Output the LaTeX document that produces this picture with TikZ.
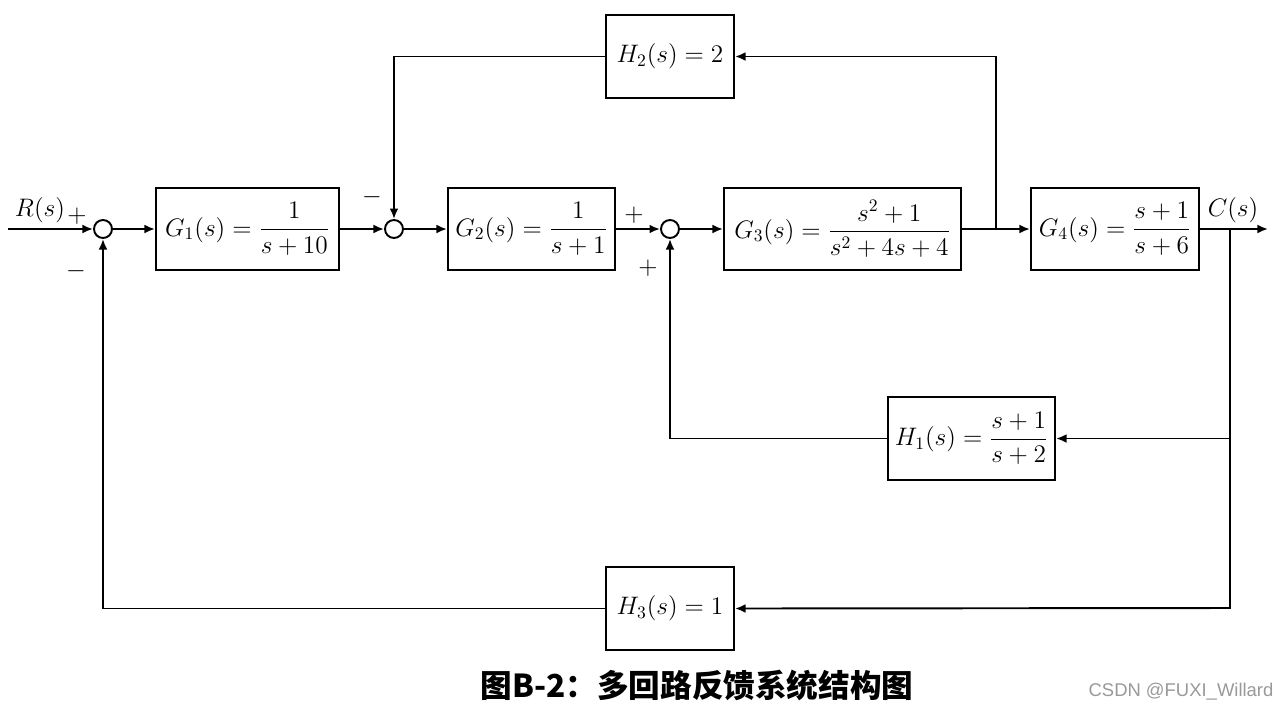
\documentclass[tikz,border=0pt]{standalone}
\usepackage{amsmath}
\usepackage{fontspec}
\newfontfamily\cjk{Noto Sans CJK SC}
\newfontfamily\wm{Liberation Sans}
\usetikzlibrary{arrows.meta}
\begin{document}
\begin{tikzpicture}[x=0.02cm,y=-0.02cm,
  line width=1.1pt,
  font=\fontsize{14.5}{17}\selectfont,
  blk/.style={draw, line width=1.2pt, inner sep=0pt, minimum height=1.64cm},
  sumj/.style={draw, circle, line width=1.1pt, inner sep=0pt, minimum size=0.36cm},
  arr/.style={-{Latex[length=6pt,width=5pt]}},
  sgn/.style={inner sep=0pt}]
\useasboundingbox (0,0) rectangle (1281,711);
% summing junctions
\node[sumj] (S1) at (103,229) {};
\node[sumj] (S2) at (394,229) {};
\node[sumj] (S3) at (670,229) {};
% blocks
\node[blk, minimum width=3.66cm] (G1) at (247.5,229) {$G_1(s)=\dfrac{1}{s+10}$};
\node[blk, minimum width=3.34cm] (G2) at (531.5,229) {$G_2(s)=\dfrac{1}{s+1}$};
\node[blk, minimum width=4.74cm] (G3) at (842.5,229) {$G_3(s)=\dfrac{s^2+1}{s^2+4s+4}$};
\node[blk, minimum width=3.36cm] (G4) at (1115,229) {$G_4(s)=\dfrac{s+1}{s+6}$};
\node[blk, minimum width=2.56cm, minimum height=1.66cm] (H2) at (670,56.5) {$H_2(s)=2$};
\node[blk, minimum width=3.34cm, minimum height=1.66cm] (H1) at (971.5,438.5) {$H_1(s)=\dfrac{s+1}{s+2}$};
\node[blk, minimum width=2.56cm, minimum height=1.66cm] (H3) at (670,608.5) {$H_3(s)=1$};
% coordinates
\coordinate (in) at (8,229);
\coordinate (out) at (1268,229);
\coordinate (b1) at (996,229);
\coordinate (b2) at (1230,229);
\coordinate (b3) at (1230,608);
% forward path
\draw[arr] (in) -- (S1.west);
\draw[arr] (S1.east) -- (G1.west);
\draw[arr] (G1.east) -- (S2.west);
\draw[arr] (S2.east) -- (G2.west);
\draw[arr] (G2.east) -- (S3.west);
\draw[arr] (S3.east) -- (G3.west);
\draw[arr] (G3.east) -- (G4.west);
\draw[arr] (G4.east) -- (out);
% feedback paths
\draw[arr] (b1) |- (H2.east);
\draw[arr] (H2.west) -| (S2.north);
\draw[arr] (b2) |- (H1.east);
\draw[arr] (H1.west) -| (S3.south);
\draw[arr] (b2) -- (b3) -- (H3.east);
\draw[arr] (H3.west) -| (S1.south);
% labels
\node[sgn] (Rl) at (40,210) {$R(s)$};
\node[sgn] (Cl) at (1233,210) {$C(s)$};
\node[sgn] (p1) at (77,216) {$+$};
\node[sgn] (m1) at (76,271) {$-$};
\node[sgn] (m2) at (372,197) {$-$};
\node[sgn] (p3) at (634,215) {$+$};
\node[sgn] (p4) at (648,268) {$+$};
% caption
\node[sgn] (cap) at (697,685) {\cjk\bfseries\fontsize{18}{20}\selectfont 图B-2：多回路反馈系统结构图};
\node[sgn, text=black!40] (wm) at (1181,692) {\wm\fontsize{10.5}{12}\selectfont CSDN @FUXI\_Willard};
\end{tikzpicture}
\end{document}
